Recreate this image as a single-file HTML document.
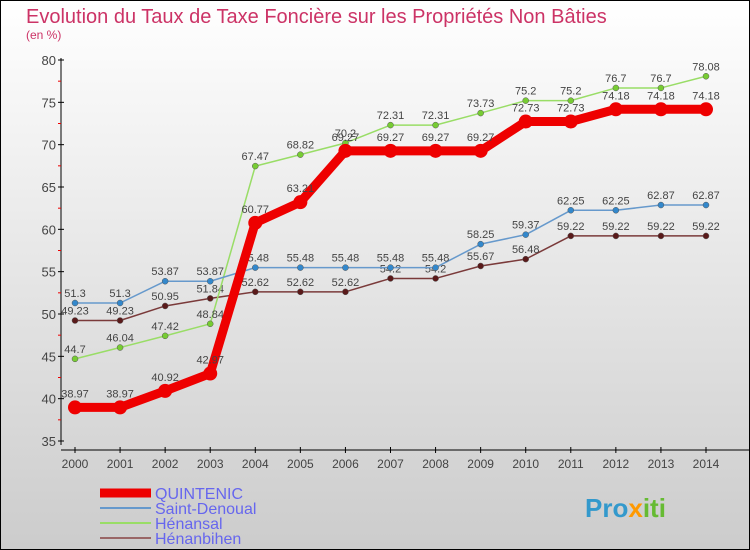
<!DOCTYPE html>
<html><head><meta charset="utf-8"><style>
body{margin:0}
#c{width:750px;height:550px;position:relative;overflow:hidden;font-family:"Liberation Sans",sans-serif}
</style></head><body>
<div id="c">
<svg width="750" height="550" xmlns="http://www.w3.org/2000/svg" id="svg">
<defs><linearGradient id="bg" x1="0" y1="0" x2="0" y2="1"><stop offset="0" stop-color="#ffffff"/><stop offset="1" stop-color="#cccccc"/></linearGradient></defs>
<rect x="0.5" y="0.5" width="749" height="549" fill="url(#bg)" stroke="#000"/>
<text x="26" y="23" font-size="20" fill="#cc3366">Evolution du Taux de Taxe Foncière sur les Propriétés Non Bâties</text>
<text x="26" y="39" font-size="12" fill="#cc3366">(en %)</text>
<g id="axes"></g>
<g id="series"></g>
<g id="legend"></g>
<text x="585" y="517" font-size="26" font-weight="bold" fill="#3399cc">Pro<tspan fill="#ff9900">x</tspan><tspan fill="#66bb33">iti</tspan></text>
</svg>
</div>
<script>
const years=["2000","2001","2002","2003","2004","2005","2006","2007","2008","2009","2010","2011","2012","2013","2014"];
const yTicks=[35,40,45,50,55,60,65,70,75,80];
const seriesNames=["QUINTENIC","Saint-Denoual","Hénansal","Hénanbihen"];
const quintenic=[38.97,38.97,40.92,42.97,60.77,63.21,69.27,69.27,69.27,69.27,72.73,72.73,74.18,74.18,74.18];
const saintDenoual=[51.3,51.3,53.87,53.87,55.48,55.48,55.48,55.48,55.48,58.25,59.37,62.25,62.25,62.87,62.87];
const henansal=[44.7,46.04,47.42,48.84,67.47,68.82,70.2,72.31,72.31,73.73,75.2,75.2,76.7,76.7,78.08];
const henanbihen=[49.23,49.23,50.95,51.84,52.62,52.62,52.62,54.2,54.2,55.67,56.48,59.22,59.22,59.22,59.22];

const NS="http://www.w3.org/2000/svg";
const X=i=>75+i*(706-75)/14;
const Y=v=>60+(80-v)*(441-60)/45;
function mk(tag,attrs,parent,txt){const e=document.createElementNS(NS,tag);for(const k in attrs)e.setAttribute(k,attrs[k]);if(txt!==undefined)e.textContent=txt;parent.appendChild(e);return e;}
const axes=document.getElementById('axes');
let a=mk('line',{x1:61,y1:58,x2:61,y2:445,stroke:'#000'},axes);


a=mk('line',{x1:61,y1:450,x2:750,y2:450,stroke:'#000'},axes);


yTicks.forEach((v,i)=>{
  mk('line',{x1:58,y1:Y(v),x2:64,y2:Y(v),stroke:'#000'},axes);
  if(i<yTicks.length-1) mk('line',{x1:58,y1:Y(v+2.5),x2:61,y2:Y(v+2.5),stroke:'#e00'},axes);
  const t=mk('text',{x:56,y:Y(v)+5,'font-size':13,fill:'#444','text-anchor':'end'},axes,String(v));
  
  
});
years.forEach((y,i)=>{
  mk('line',{x1:X(i),y1:447,x2:X(i),y2:453,stroke:'#000'},axes);
  const t=mk('text',{x:X(i),y:468,'font-size':12,fill:'#444','text-anchor':'middle'},axes,y);
  
  
});
const ser=document.getElementById('series');
const defs=[
 {d:henanbihen,c:'#7a3a3a',f:'#5a1a1a',w:1.5,r:3,n:'henanbihen'},
 {d:henansal,c:'#99dd66',f:'#77cc33',w:1.5,r:3,n:'henansal'},
 {d:saintDenoual,c:'#6699cc',f:'#3388cc',w:1.5,r:3,n:'saint-denoual'},
 {d:quintenic,c:'#ee0000',f:'#ee0000',w:9,r:7,n:'quintenic'}];
defs.forEach(s=>{
  const g=mk('g',{},ser);
  
  
  const p=mk('polyline',{points:s.d.map((v,i)=>X(i)+','+Y(v)).join(' '),fill:'none',stroke:s.c,'stroke-width':s.w,'stroke-linejoin':'round'},g);
  
  
  s.d.forEach((v,i)=>{
    const c=mk('circle',{cx:X(i),cy:Y(v),r:s.r,fill:s.f,stroke:s.w>2?'none':'#555','stroke-width':0.5},g);
    
    
    const t=mk('text',{x:X(i),y:Y(v)-(s.w>2?10:6),'font-size':11,fill:'#444','text-anchor':'middle'},g,String(v));
    
    
  });
});
const lg=document.getElementById('legend');
const lc=['#ee0000','#6699cc','#99dd66','#996666'];
const lw=[9,2,2,2];
seriesNames.forEach((n,i)=>{
  const y=493+i*15;
  const g=mk('g',{},lg);
  
  
  mk('line',{x1:100,y1:y,x2:151,y2:y,stroke:lc[i],'stroke-width':lw[i]},g);
  mk('text',{x:155,y:y+6,'font-size':16,fill:'#6666ee'},g,n);
});
</script>
</body></html>
